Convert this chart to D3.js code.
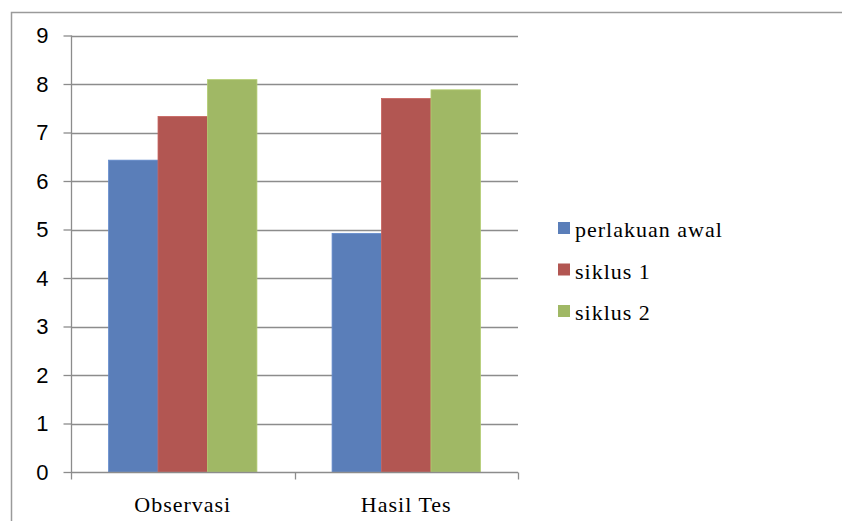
<!DOCTYPE html>
<html>
<head>
<meta charset="utf-8">
<script src="https://cdn.jsdelivr.net/npm/d3@7"></script>
<style>
  body { margin: 0; background: #fff; }
  svg { display: block; }
</style>
</head>
<body>
<svg width="842" height="521"></svg>
<script>
var categories = ['Observasi', 'Hasil Tes'];
var seriesNames = ['perlakuan awal', 'siklus 1', 'siklus 2'];
var perlakuanAwal = [6.43, 4.92];
var siklus1 = [7.33, 7.70];
var siklus2 = [8.09, 7.88];
var yTicks = [0, 1, 2, 3, 4, 5, 6, 7, 8, 9];
var colors = ['#5A7EB9', '#B25652', '#A0B865'];

var values = [perlakuanAwal, siklus1, siklus2];

var svg = d3.select('svg');

// outer frame (cut off at right and bottom)
svg.append('rect')
    .attr('x', 11.5).attr('y', 12.5)
    .attr('width', 900).attr('height', 600)
    .attr('fill', 'none')
    .attr('stroke', '#9a9a9a')
    .attr('stroke-width', 1.5);

var plotLeft = 71, plotRight = 518, plotTop = 35.5, plotBottom = 472;

var y = d3.scaleLinear().domain([0, 9]).range([plotBottom, plotTop]);
var x0 = d3.scaleBand().domain(categories).range([plotLeft, plotRight]).paddingInner(0).paddingOuter(0);
var x1 = d3.scaleBand().domain(seriesNames).range([0, x0.bandwidth()]).paddingInner(0).paddingOuter(0.76);

// gridlines
svg.append('g').selectAll('line')
    .data(yTicks.filter(function(d) { return d > 0; }))
    .enter().append('line')
    .attr('x1', plotLeft).attr('x2', plotRight)
    .attr('y1', function(d) { return Math.round(y(d)) + 0.5; })
    .attr('y2', function(d) { return Math.round(y(d)) + 0.5; })
    .attr('stroke', '#8c8c8c')
    .attr('stroke-width', 1.3);

// bars
categories.forEach(function(cat, ci) {
    seriesNames.forEach(function(s, si) {
        svg.append('rect')
            .attr('x', x0(cat) + x1(s))
            .attr('y', y(values[si][ci]))
            .attr('width', x1.bandwidth())
            .attr('height', plotBottom - y(values[si][ci]))
            .attr('fill', colors[si])
            .attr('stroke', d3.color(colors[si]).brighter(0.3))
            .attr('stroke-width', 0.8);
    });
});

// y axis
var yAxis = d3.axisLeft(y).tickValues(yTicks).tickSize(8).tickPadding(15).tickFormat(d3.format('d'));
var gy = svg.append('g').attr('transform', 'translate(' + (plotLeft + 0.5) + ',0)').call(yAxis);
gy.select('.domain').attr('stroke', '#8c8c8c').attr('stroke-width', 1.3).attr('d', 'M0,' + plotTop + 'V' + (plotBottom + 0.5));
gy.selectAll('.tick line').attr('stroke', '#8c8c8c').attr('stroke-width', 1.3);
gy.selectAll('.tick text')
    .attr('font-family', 'Liberation Sans, Arial, sans-serif')
    .attr('font-size', 22)
    .attr('fill', '#000');

// x axis
var gx = svg.append('g').attr('transform', 'translate(0,' + (plotBottom + 0.5) + ')');
gx.append('line').attr('x1', plotLeft).attr('x2', plotRight).attr('stroke', '#8c8c8c').attr('stroke-width', 1.3);
var xTickPos = [plotLeft].concat(categories.map(function(c) { return x0(c) + x0.bandwidth(); }));
gx.selectAll('.xt').data(xTickPos).enter().append('line')
    .attr('x1', function(d) { return Math.round(d) + 0.5; })
    .attr('x2', function(d) { return Math.round(d) + 0.5; })
    .attr('y1', 0).attr('y2', 7)
    .attr('stroke', '#8c8c8c').attr('stroke-width', 1.3);
gx.selectAll('.xl').data(categories).enter().append('text')
    .attr('x', function(d) { return x0(d) + x0.bandwidth() / 2; })
    .attr('y', 39)
    .attr('text-anchor', 'middle')
    .attr('font-family', 'Liberation Serif, Times New Roman, serif')
    .attr('font-size', 22)
    .attr('letter-spacing', 1)
    .attr('fill', '#000')
    .text(function(d) { return d; });

// legend
var legend = svg.append('g').attr('transform', 'translate(558,222)');
seriesNames.forEach(function(s, i) {
    var g = legend.append('g').attr('transform', 'translate(0,' + (i * 41.5) + ')');
    g.append('rect').attr('x', 0).attr('y', 0).attr('width', 12).attr('height', 12).attr('fill', colors[i]);
    g.append('text')
        .attr('x', 17).attr('y', 15)
        .attr('font-family', 'Liberation Serif, Times New Roman, serif')
        .attr('font-size', 22)
        .attr('letter-spacing', 1)
        .attr('fill', '#000')
        .text(s);
});
</script>
</body>
</html>
